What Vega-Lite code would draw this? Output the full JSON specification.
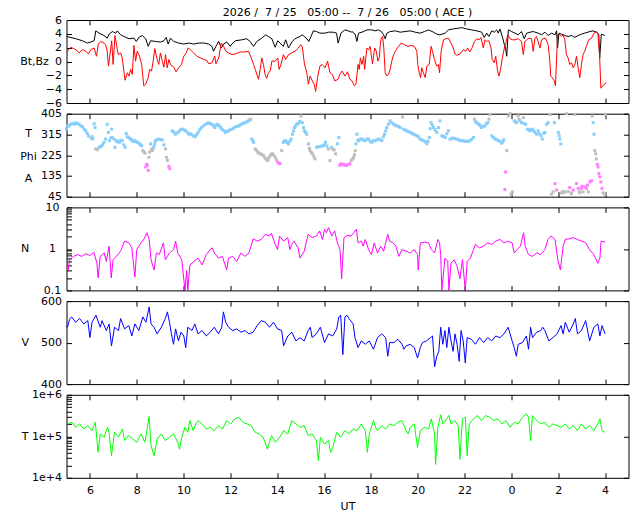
{
"$schema":"https://vega.github.io/schema/vega-lite/v6.json",
"padding":{"left":18.5,"top":6,"right":0,"bottom":0},
"spacing":10.7,
"bounds":"flush",
"config":{"font":"DejaVu Sans","view":{"stroke":"black","strokeWidth":1},
"axis":{"domain":false,"grid":false,"tickColor":"black","tickSize":-5,"tickWidth":1,"labelFontSize":11,"labelColor":"black","labelFont":"DejaVu Sans","titleFont":"DejaVu Sans","titleFontSize":11,"titleFontWeight":"normal","titleColor":"black","labelFlush":false,"labelOverlap":false,"labelBound":false},
"axisX":{"labelPadding":11.5},
"axisY":{"labelPadding":10}},
"datasets":{
"bt":[{"t":5.01,"v":3.62},{"t":5.4,"v":3.29},{"t":5.68,"v":3.0},{"t":5.89,"v":2.67},{"t":6.04,"v":2.81},{"t":6.18,"v":3.0},{"t":6.25,"v":4.43},{"t":6.39,"v":4.1},{"t":6.6,"v":3.76},{"t":6.74,"v":3.38},{"t":6.82,"v":3.95},{"t":6.96,"v":4.33},{"t":7.1,"v":4.1},{"t":7.17,"v":4.43},{"t":7.31,"v":3.86},{"t":7.45,"v":3.62},{"t":7.67,"v":3.29},{"t":7.88,"v":3.38},{"t":7.98,"v":2.9},{"t":8.09,"v":3.48},{"t":8.23,"v":3.76},{"t":8.38,"v":3.29},{"t":8.49,"v":2.19},{"t":8.59,"v":3.0},{"t":8.8,"v":2.9},{"t":9.01,"v":2.81},{"t":9.16,"v":3.0},{"t":9.26,"v":3.48},{"t":9.34,"v":2.52},{"t":9.44,"v":3.38},{"t":9.58,"v":2.9},{"t":9.79,"v":2.67},{"t":10.01,"v":2.52},{"t":10.22,"v":2.67},{"t":10.43,"v":2.52},{"t":10.65,"v":2.67},{"t":10.86,"v":2.67},{"t":11.07,"v":2.52},{"t":11.21,"v":2.19},{"t":11.28,"v":1.48},{"t":11.38,"v":2.19},{"t":11.5,"v":2.9},{"t":11.61,"v":1.95},{"t":11.71,"v":2.52},{"t":11.85,"v":2.81},{"t":11.99,"v":2.19},{"t":12.06,"v":2.52},{"t":12.21,"v":3.0},{"t":12.49,"v":3.14},{"t":12.7,"v":3.29},{"t":12.84,"v":2.9},{"t":12.99,"v":2.19},{"t":13.13,"v":2.9},{"t":13.34,"v":3.38},{"t":13.51,"v":3.86},{"t":13.62,"v":3.62},{"t":13.77,"v":3.29},{"t":13.91,"v":2.05},{"t":14.02,"v":3.0},{"t":14.12,"v":2.67},{"t":14.26,"v":2.19},{"t":14.36,"v":3.14},{"t":14.48,"v":1.95},{"t":14.62,"v":2.81},{"t":14.76,"v":3.29},{"t":14.97,"v":3.62},{"t":15.07,"v":3.86},{"t":15.26,"v":3.29},{"t":15.35,"v":2.9},{"t":15.47,"v":3.86},{"t":15.54,"v":4.43},{"t":15.68,"v":4.33},{"t":15.82,"v":4.1},{"t":16.04,"v":4.1},{"t":16.18,"v":4.24},{"t":16.39,"v":4.24},{"t":16.53,"v":4.1},{"t":16.6,"v":2.67},{"t":16.72,"v":4.1},{"t":16.89,"v":4.57},{"t":17.03,"v":4.43},{"t":17.17,"v":4.24},{"t":17.19,"v":4.33},{"t":17.33,"v":3.95},{"t":17.4,"v":2.9},{"t":17.47,"v":4.1},{"t":17.62,"v":4.24},{"t":17.83,"v":4.57},{"t":18.04,"v":4.57},{"t":18.18,"v":4.43},{"t":18.33,"v":4.57},{"t":18.47,"v":4.24},{"t":18.54,"v":3.86},{"t":18.61,"v":3.29},{"t":18.68,"v":4.1},{"t":18.82,"v":4.33},{"t":19.04,"v":4.43},{"t":19.25,"v":4.24},{"t":19.46,"v":4.33},{"t":19.68,"v":4.43},{"t":19.89,"v":4.24},{"t":20.1,"v":4.1},{"t":20.29,"v":4.33},{"t":20.46,"v":4.57},{"t":20.67,"v":4.24},{"t":20.81,"v":3.95},{"t":20.95,"v":3.86},{"t":21.17,"v":4.1},{"t":21.31,"v":4.57},{"t":21.52,"v":4.71},{"t":21.74,"v":4.81},{"t":21.88,"v":4.9},{"t":22.09,"v":4.71},{"t":22.3,"v":4.57},{"t":22.52,"v":4.43},{"t":22.73,"v":4.24},{"t":22.84,"v":3.48},{"t":22.94,"v":4.1},{"t":23.04,"v":3.62},{"t":23.16,"v":4.43},{"t":23.27,"v":4.24},{"t":23.37,"v":4.57},{"t":23.44,"v":4.1},{"t":23.51,"v":4.71},{"t":23.61,"v":3.62},{"t":23.7,"v":2.43},{"t":23.75,"v":1.95},{"t":23.8,"v":0.76},{"t":23.87,"v":4.57},{"t":24.01,"v":4.33},{"t":24.15,"v":4.1},{"t":24.29,"v":3.86},{"t":24.43,"v":4.33},{"t":24.55,"v":3.29},{"t":24.65,"v":4.1},{"t":24.79,"v":4.24},{"t":24.93,"v":4.33},{"t":25.14,"v":4.1},{"t":25.29,"v":3.86},{"t":25.43,"v":4.24},{"t":25.57,"v":3.76},{"t":25.71,"v":4.1},{"t":25.86,"v":3.86},{"t":25.93,"v":4.43},{"t":25.97,"v":1.95},{"t":26.03,"v":4.1},{"t":26.14,"v":3.95},{"t":26.28,"v":3.76},{"t":26.42,"v":3.62},{"t":26.57,"v":3.76},{"t":26.71,"v":3.48},{"t":26.85,"v":3.76},{"t":26.99,"v":3.95},{"t":27.13,"v":4.1},{"t":27.35,"v":4.33},{"t":27.49,"v":4.43},{"t":27.63,"v":4.24},{"t":27.73,"v":3.95},{"t":27.77,"v":0.52},{"t":27.84,"v":3.95},{"t":27.99,"v":3.76}],
"bz":[{"t":5.01,"v":1.38},{"t":5.18,"v":2.05},{"t":5.4,"v":1.71},{"t":5.54,"v":1.24},{"t":5.68,"v":1.71},{"t":5.82,"v":1.48},{"t":5.94,"v":1.1},{"t":6.04,"v":1.71},{"t":6.18,"v":1.95},{"t":6.28,"v":0.76},{"t":6.36,"v":2.52},{"t":6.46,"v":2.9},{"t":6.6,"v":2.67},{"t":6.67,"v":2.43},{"t":6.74,"v":1.48},{"t":6.79,"v":-0.67},{"t":6.84,"v":0.52},{"t":6.93,"v":3.0},{"t":6.99,"v":-0.43},{"t":7.07,"v":3.76},{"t":7.13,"v":2.52},{"t":7.21,"v":1.0},{"t":7.31,"v":1.24},{"t":7.38,"v":0.52},{"t":7.45,"v":-1.38},{"t":7.5,"v":-2.71},{"t":7.6,"v":-1.62},{"t":7.67,"v":-2.1},{"t":7.74,"v":-1.14},{"t":7.81,"v":-1.86},{"t":7.88,"v":2.33},{"t":7.95,"v":0.05},{"t":8.02,"v":1.48},{"t":8.12,"v":0.76},{"t":8.21,"v":-0.43},{"t":8.3,"v":-3.52},{"t":8.38,"v":-3.29},{"t":8.49,"v":-2.33},{"t":8.55,"v":-1.14},{"t":8.63,"v":-1.38},{"t":8.69,"v":-0.19},{"t":8.77,"v":1.86},{"t":8.87,"v":0.29},{"t":8.94,"v":-0.43},{"t":9.01,"v":1.24},{"t":9.09,"v":0.05},{"t":9.16,"v":-0.81},{"t":9.23,"v":1.0},{"t":9.3,"v":-0.9},{"t":9.37,"v":0.29},{"t":9.44,"v":-0.43},{"t":9.58,"v":-0.81},{"t":9.68,"v":-1.48},{"t":9.79,"v":-0.9},{"t":9.91,"v":-0.43},{"t":10.01,"v":0.76},{"t":10.11,"v":1.24},{"t":10.19,"v":1.95},{"t":10.29,"v":1.71},{"t":10.43,"v":1.24},{"t":10.57,"v":0.76},{"t":10.72,"v":0.52},{"t":10.86,"v":0.29},{"t":11.0,"v":0.14},{"t":11.07,"v":-0.33},{"t":11.21,"v":-0.19},{"t":11.33,"v":0.76},{"t":11.38,"v":-0.33},{"t":11.5,"v":0.52},{"t":11.61,"v":2.67},{"t":11.71,"v":2.19},{"t":11.81,"v":1.48},{"t":11.92,"v":1.24},{"t":12.06,"v":1.0},{"t":12.21,"v":1.1},{"t":12.42,"v":1.38},{"t":12.63,"v":1.38},{"t":12.77,"v":1.48},{"t":12.89,"v":0.52},{"t":12.99,"v":-0.43},{"t":13.06,"v":-1.14},{"t":13.13,"v":-1.86},{"t":13.2,"v":-2.57},{"t":13.27,"v":-1.14},{"t":13.34,"v":0.52},{"t":13.41,"v":-0.43},{"t":13.48,"v":-1.86},{"t":13.55,"v":-2.43},{"t":13.62,"v":-1.62},{"t":13.7,"v":-1.38},{"t":13.77,"v":0.05},{"t":13.91,"v":0.05},{"t":14.02,"v":0.52},{"t":14.08,"v":-1.14},{"t":14.16,"v":-0.43},{"t":14.26,"v":1.0},{"t":14.36,"v":0.29},{"t":14.48,"v":1.0},{"t":14.62,"v":1.24},{"t":14.76,"v":1.48},{"t":14.9,"v":1.95},{"t":15.01,"v":2.43},{"t":15.07,"v":2.19},{"t":15.16,"v":-0.33},{"t":15.26,"v":-1.62},{"t":15.33,"v":-3.29},{"t":15.4,"v":-2.1},{"t":15.5,"v":-2.81},{"t":15.58,"v":-3.29},{"t":15.64,"v":-4.33},{"t":15.72,"v":-2.33},{"t":15.82,"v":-0.67},{"t":15.92,"v":-0.43},{"t":16.04,"v":-0.9},{"t":16.15,"v":0.05},{"t":16.25,"v":-1.62},{"t":16.35,"v":-1.86},{"t":16.46,"v":-2.81},{"t":16.6,"v":-2.57},{"t":16.67,"v":-1.86},{"t":16.77,"v":-1.38},{"t":16.89,"v":-2.1},{"t":17.0,"v":-1.48},{"t":17.1,"v":-2.57},{"t":17.17,"v":-2.71},{"t":17.19,"v":-2.81},{"t":17.3,"v":-3.52},{"t":17.36,"v":-3.29},{"t":17.45,"v":-0.43},{"t":17.5,"v":-1.14},{"t":17.55,"v":0.52},{"t":17.62,"v":-0.43},{"t":17.69,"v":0.76},{"t":17.73,"v":-1.14},{"t":17.83,"v":1.95},{"t":17.9,"v":1.71},{"t":17.97,"v":2.19},{"t":18.01,"v":1.0},{"t":18.07,"v":-0.33},{"t":18.16,"v":1.95},{"t":18.23,"v":1.48},{"t":18.3,"v":0.05},{"t":18.36,"v":0.62},{"t":18.4,"v":2.43},{"t":18.44,"v":3.38},{"t":18.5,"v":3.62},{"t":18.55,"v":1.95},{"t":18.61,"v":-1.62},{"t":18.68,"v":-2.1},{"t":18.75,"v":-1.86},{"t":18.82,"v":-1.14},{"t":18.89,"v":0.05},{"t":18.97,"v":1.0},{"t":19.04,"v":1.48},{"t":19.18,"v":2.19},{"t":19.29,"v":2.67},{"t":19.43,"v":2.43},{"t":19.58,"v":2.19},{"t":19.72,"v":2.33},{"t":19.86,"v":2.19},{"t":19.96,"v":1.48},{"t":20.0,"v":-0.43},{"t":20.06,"v":-1.62},{"t":20.12,"v":-2.33},{"t":20.17,"v":-0.9},{"t":20.24,"v":-1.62},{"t":20.32,"v":-2.33},{"t":20.39,"v":-0.67},{"t":20.49,"v":-0.43},{"t":20.57,"v":2.19},{"t":20.63,"v":1.48},{"t":20.71,"v":0.29},{"t":20.81,"v":-0.67},{"t":20.88,"v":-0.43},{"t":20.93,"v":-1.62},{"t":21.0,"v":1.48},{"t":21.1,"v":3.14},{"t":21.2,"v":3.29},{"t":21.31,"v":3.38},{"t":21.42,"v":2.67},{"t":21.52,"v":1.95},{"t":21.59,"v":1.1},{"t":21.66,"v":0.9},{"t":21.81,"v":1.1},{"t":21.95,"v":1.71},{"t":22.05,"v":1.48},{"t":22.13,"v":1.95},{"t":22.23,"v":1.38},{"t":22.33,"v":2.05},{"t":22.42,"v":2.9},{"t":22.52,"v":3.29},{"t":22.62,"v":3.14},{"t":22.7,"v":3.48},{"t":22.8,"v":1.95},{"t":22.87,"v":3.14},{"t":22.94,"v":2.9},{"t":23.04,"v":3.0},{"t":23.13,"v":1.95},{"t":23.18,"v":0.29},{"t":23.27,"v":-0.19},{"t":23.33,"v":0.76},{"t":23.41,"v":-1.38},{"t":23.47,"v":-2.1},{"t":23.55,"v":-0.9},{"t":23.61,"v":0.52},{"t":23.7,"v":1.95},{"t":23.75,"v":2.43},{"t":23.84,"v":3.86},{"t":23.94,"v":3.29},{"t":24.04,"v":3.14},{"t":24.15,"v":3.14},{"t":24.29,"v":3.29},{"t":24.43,"v":2.9},{"t":24.51,"v":1.0},{"t":24.58,"v":2.9},{"t":24.65,"v":3.14},{"t":24.75,"v":3.38},{"t":24.86,"v":3.29},{"t":24.93,"v":1.48},{"t":25.0,"v":3.29},{"t":25.07,"v":3.62},{"t":25.14,"v":2.9},{"t":25.22,"v":1.95},{"t":25.29,"v":3.14},{"t":25.36,"v":3.29},{"t":25.46,"v":3.38},{"t":25.57,"v":2.43},{"t":25.64,"v":0.05},{"t":25.68,"v":-2.1},{"t":25.74,"v":-2.33},{"t":25.83,"v":-2.81},{"t":25.88,"v":-3.52},{"t":25.93,"v":0.5},{"t":25.97,"v":3.86},{"t":26.07,"v":3.86},{"t":26.14,"v":3.62},{"t":26.21,"v":3.86},{"t":26.28,"v":3.14},{"t":26.35,"v":1.0},{"t":26.42,"v":0.52},{"t":26.49,"v":-0.43},{"t":26.57,"v":-0.19},{"t":26.64,"v":-0.9},{"t":26.71,"v":-0.43},{"t":26.78,"v":0.76},{"t":26.85,"v":-0.9},{"t":26.92,"v":-2.33},{"t":26.99,"v":-0.43},{"t":27.06,"v":1.0},{"t":27.13,"v":1.48},{"t":27.2,"v":2.19},{"t":27.3,"v":3.14},{"t":27.42,"v":3.38},{"t":27.53,"v":4.1},{"t":27.63,"v":4.33},{"t":27.7,"v":3.86},{"t":27.77,"v":0.52},{"t":27.82,"v":-3.86},{"t":27.87,"v":-3.67},{"t":27.96,"v":-3.29},{"t":28.06,"v":-3.05}],
"phi":[{"t":5.0,"p":338},{"t":5.05,"p":352},{"t":5.11,"p":352},{"t":5.18,"p":359},{"t":5.26,"p":362},{"t":5.33,"p":359},{"t":5.4,"p":366},{"t":5.47,"p":362},{"t":5.54,"p":359},{"t":5.61,"p":352},{"t":5.68,"p":348},{"t":5.75,"p":338},{"t":5.82,"p":331},{"t":5.88,"p":320},{"t":5.94,"p":309},{"t":6.04,"p":299},{"t":6.1,"p":305},{"t":6.13,"p":295},{"t":6.18,"p":361},{"t":6.22,"p":345},{"t":6.25,"p":252},{"t":6.32,"p":249},{"t":6.39,"p":259},{"t":6.45,"p":262},{"t":6.5,"p":266},{"t":6.55,"p":272},{"t":6.6,"p":281},{"t":6.67,"p":295},{"t":6.74,"p":359},{"t":6.79,"p":324},{"t":6.84,"p":288},{"t":6.9,"p":300},{"t":6.93,"p":338},{"t":6.96,"p":302},{"t":7.03,"p":295},{"t":7.07,"p":259},{"t":7.12,"p":285},{"t":7.17,"p":288},{"t":7.22,"p":282},{"t":7.27,"p":281},{"t":7.33,"p":290},{"t":7.38,"p":288},{"t":7.45,"p":270},{"t":7.5,"p":259},{"t":7.55,"p":319},{"t":7.6,"p":305},{"t":7.64,"p":302},{"t":7.7,"p":298},{"t":7.74,"p":295},{"t":7.78,"p":292},{"t":7.81,"p":288},{"t":7.86,"p":285},{"t":7.92,"p":288},{"t":7.97,"p":284},{"t":8.02,"p":281},{"t":8.07,"p":278},{"t":8.12,"p":274},{"t":8.16,"p":270},{"t":8.21,"p":266},{"t":8.26,"p":245},{"t":8.3,"p":240},{"t":8.35,"p":234},{"t":8.38,"p":174},{"t":8.42,"p":185},{"t":8.45,"p":181},{"t":8.49,"p":159},{"t":8.52,"p":216},{"t":8.55,"p":238},{"t":8.59,"p":274},{"t":8.63,"p":250},{"t":8.66,"p":245},{"t":8.7,"p":255},{"t":8.73,"p":262},{"t":8.77,"p":275},{"t":8.8,"p":288},{"t":8.87,"p":292},{"t":8.94,"p":295},{"t":9.01,"p":293},{"t":9.09,"p":291},{"t":9.16,"p":270},{"t":9.23,"p":252},{"t":9.27,"p":216},{"t":9.31,"p":202},{"t":9.37,"p":177},{"t":9.41,"p":166},{"t":9.51,"p":331},{"t":9.58,"p":325},{"t":9.65,"p":316},{"t":9.72,"p":322},{"t":9.79,"p":326},{"t":9.86,"p":335},{"t":9.94,"p":338},{"t":10.01,"p":335},{"t":10.08,"p":331},{"t":10.15,"p":325},{"t":10.22,"p":316},{"t":10.29,"p":318},{"t":10.36,"p":313},{"t":10.43,"p":308},{"t":10.5,"p":305},{"t":10.56,"p":315},{"t":10.62,"p":324},{"t":10.69,"p":335},{"t":10.76,"p":345},{"t":10.84,"p":352},{"t":10.93,"p":359},{"t":11.0,"p":362},{"t":11.07,"p":366},{"t":11.14,"p":362},{"t":11.21,"p":359},{"t":11.27,"p":352},{"t":11.33,"p":345},{"t":11.38,"p":355},{"t":11.43,"p":359},{"t":11.48,"p":355},{"t":11.52,"p":352},{"t":11.58,"p":345},{"t":11.64,"p":338},{"t":11.71,"p":332},{"t":11.78,"p":324},{"t":11.85,"p":328},{"t":11.92,"p":331},{"t":11.99,"p":335},{"t":12.06,"p":338},{"t":12.13,"p":342},{"t":12.21,"p":348},{"t":12.28,"p":350},{"t":12.35,"p":352},{"t":12.42,"p":356},{"t":12.49,"p":361},{"t":12.56,"p":364},{"t":12.63,"p":366},{"t":12.7,"p":370},{"t":12.77,"p":374},{"t":12.82,"p":378},{"t":12.87,"p":381},{"t":12.91,"p":295},{"t":12.95,"p":288},{"t":12.99,"p":281},{"t":13.06,"p":252},{"t":13.12,"p":245},{"t":13.17,"p":238},{"t":13.22,"p":234},{"t":13.27,"p":231},{"t":13.34,"p":228},{"t":13.41,"p":224},{"t":13.46,"p":216},{"t":13.51,"p":209},{"t":13.56,"p":205},{"t":13.6,"p":202},{"t":13.65,"p":215},{"t":13.7,"p":224},{"t":13.75,"p":229},{"t":13.79,"p":231},{"t":13.85,"p":225},{"t":13.91,"p":216},{"t":13.96,"p":205},{"t":14.02,"p":195},{"t":14.08,"p":190},{"t":14.12,"p":188},{"t":14.19,"p":245},{"t":14.26,"p":281},{"t":14.31,"p":288},{"t":14.36,"p":288},{"t":14.42,"p":280},{"t":14.48,"p":274},{"t":14.54,"p":285},{"t":14.59,"p":295},{"t":14.65,"p":316},{"t":14.7,"p":330},{"t":14.73,"p":345},{"t":14.78,"p":352},{"t":14.83,"p":359},{"t":14.88,"p":362},{"t":14.93,"p":366},{"t":14.97,"p":372},{"t":15.01,"p":395},{"t":15.07,"p":366},{"t":15.12,"p":345},{"t":15.16,"p":331},{"t":15.21,"p":324},{"t":15.26,"p":316},{"t":15.33,"p":274},{"t":15.37,"p":255},{"t":15.4,"p":245},{"t":15.45,"p":238},{"t":15.5,"p":231},{"t":15.56,"p":220},{"t":15.61,"p":209},{"t":15.68,"p":259},{"t":15.75,"p":262},{"t":15.82,"p":262},{"t":15.89,"p":264},{"t":15.96,"p":266},{"t":16.01,"p":270},{"t":16.06,"p":281},{"t":16.12,"p":265},{"t":16.18,"p":252},{"t":16.25,"p":202},{"t":16.32,"p":259},{"t":16.38,"p":250},{"t":16.43,"p":248},{"t":16.49,"p":231},{"t":16.57,"p":274},{"t":16.63,"p":302},{"t":16.67,"p":181},{"t":16.7,"p":185},{"t":16.74,"p":188},{"t":16.8,"p":184},{"t":16.86,"p":185},{"t":16.91,"p":181},{"t":16.96,"p":181},{"t":17.03,"p":185},{"t":17.1,"p":188},{"t":17.16,"p":202},{"t":17.22,"p":209},{"t":17.26,"p":216},{"t":17.3,"p":228},{"t":17.33,"p":245},{"t":17.36,"p":274},{"t":17.4,"p":316},{"t":17.44,"p":290},{"t":17.47,"p":288},{"t":17.52,"p":292},{"t":17.57,"p":295},{"t":17.62,"p":295},{"t":17.68,"p":290},{"t":17.76,"p":288},{"t":17.83,"p":295},{"t":17.9,"p":295},{"t":17.97,"p":285},{"t":18.04,"p":281},{"t":18.11,"p":288},{"t":18.18,"p":288},{"t":18.25,"p":292},{"t":18.33,"p":295},{"t":18.4,"p":292},{"t":18.47,"p":288},{"t":18.53,"p":305},{"t":18.58,"p":316},{"t":18.63,"p":330},{"t":18.68,"p":345},{"t":18.75,"p":360},{"t":18.82,"p":374},{"t":18.9,"p":366},{"t":18.97,"p":359},{"t":19.04,"p":355},{"t":19.11,"p":352},{"t":19.18,"p":349},{"t":19.25,"p":345},{"t":19.35,"p":391},{"t":19.39,"p":338},{"t":19.46,"p":334},{"t":19.53,"p":331},{"t":19.6,"p":327},{"t":19.68,"p":324},{"t":19.75,"p":320},{"t":19.82,"p":316},{"t":19.89,"p":313},{"t":19.96,"p":309},{"t":20.03,"p":305},{"t":20.1,"p":295},{"t":20.17,"p":292},{"t":20.24,"p":288},{"t":20.32,"p":283},{"t":20.39,"p":274},{"t":20.44,"p":285},{"t":20.49,"p":302},{"t":20.53,"p":340},{"t":20.57,"p":366},{"t":20.62,"p":356},{"t":20.67,"p":345},{"t":20.74,"p":335},{"t":20.81,"p":324},{"t":20.88,"p":345},{"t":20.95,"p":374},{"t":21.03,"p":309},{"t":21.1,"p":306},{"t":21.17,"p":302},{"t":21.24,"p":318},{"t":21.31,"p":331},{"t":21.38,"p":295},{"t":21.45,"p":298},{"t":21.52,"p":299},{"t":21.59,"p":297},{"t":21.66,"p":295},{"t":21.74,"p":292},{"t":21.81,"p":288},{"t":21.88,"p":288},{"t":21.95,"p":288},{"t":22.02,"p":285},{"t":22.09,"p":285},{"t":22.16,"p":286},{"t":22.23,"p":288},{"t":22.3,"p":294},{"t":22.38,"p":302},{"t":22.42,"p":381},{"t":22.47,"p":370},{"t":22.52,"p":366},{"t":22.57,"p":362},{"t":22.62,"p":359},{"t":22.67,"p":352},{"t":22.73,"p":345},{"t":22.8,"p":350},{"t":22.87,"p":352},{"t":22.94,"p":362},{"t":22.99,"p":366},{"t":23.04,"p":381},{"t":23.09,"p":402},{"t":23.16,"p":309},{"t":23.23,"p":302},{"t":23.3,"p":295},{"t":23.37,"p":292},{"t":23.44,"p":288},{"t":23.51,"p":285},{"t":23.58,"p":277},{"t":23.63,"p":282},{"t":23.67,"p":292},{"t":23.72,"p":76},{"t":23.75,"p":152},{"t":23.8,"p":245},{"t":23.87,"p":395},{"t":23.94,"p":405},{"t":23.98,"p":56},{"t":24.04,"p":66},{"t":24.12,"p":374},{"t":24.18,"p":370},{"t":24.22,"p":366},{"t":24.29,"p":395},{"t":24.33,"p":380},{"t":24.36,"p":374},{"t":24.43,"p":366},{"t":24.51,"p":388},{"t":24.56,"p":362},{"t":24.61,"p":359},{"t":24.69,"p":338},{"t":24.74,"p":335},{"t":24.79,"p":331},{"t":24.84,"p":335},{"t":24.89,"p":338},{"t":24.95,"p":332},{"t":25.0,"p":324},{"t":25.07,"p":316},{"t":25.14,"p":331},{"t":25.2,"p":318},{"t":25.26,"p":309},{"t":25.32,"p":295},{"t":25.38,"p":320},{"t":25.43,"p":324},{"t":25.5,"p":359},{"t":25.57,"p":366},{"t":25.64,"p":402},{"t":25.71,"p":56},{"t":25.78,"p":66},{"t":25.83,"p":366},{"t":25.86,"p":102},{"t":25.93,"p":74},{"t":26.0,"p":324},{"t":26.04,"p":310},{"t":26.07,"p":295},{"t":26.11,"p":274},{"t":26.14,"p":62},{"t":26.2,"p":68},{"t":26.21,"p":62},{"t":26.28,"p":66},{"t":26.35,"p":405},{"t":26.42,"p":68},{"t":26.49,"p":85},{"t":26.55,"p":58},{"t":26.57,"p":62},{"t":26.64,"p":74},{"t":26.71,"p":402},{"t":26.78,"p":102},{"t":26.85,"p":81},{"t":26.9,"p":66},{"t":26.92,"p":62},{"t":26.99,"p":81},{"t":27.0,"p":90},{"t":27.06,"p":66},{"t":27.13,"p":88},{"t":27.2,"p":81},{"t":27.25,"p":95},{"t":27.28,"p":66},{"t":27.35,"p":109},{"t":27.42,"p":114},{"t":27.45,"p":395},{"t":27.49,"p":366},{"t":27.53,"p":316},{"t":27.56,"p":245},{"t":27.6,"p":231},{"t":27.63,"p":209},{"t":27.67,"p":185},{"t":27.7,"p":174},{"t":27.73,"p":145},{"t":27.77,"p":131},{"t":27.82,"p":109},{"t":27.87,"p":81},{"t":27.91,"p":62},{"t":27.99,"p":56},{"t":28.01,"p":402}],
"n":[{"t":5.04,"v":0.5},{"t":5.08,"v":0.31},{"t":5.13,"v":0.55},{"t":5.3,"v":0.66},{"t":5.48,"v":0.73},{"t":5.65,"v":0.66},{"t":5.83,"v":0.77},{"t":6.0,"v":0.69},{"t":6.17,"v":0.83},{"t":6.3,"v":0.45},{"t":6.35,"v":0.2},{"t":6.44,"v":0.66},{"t":6.61,"v":0.8},{"t":6.7,"v":0.5},{"t":6.82,"v":1.16},{"t":6.91,"v":0.2},{"t":6.99,"v":0.55},{"t":7.13,"v":0.66},{"t":7.31,"v":0.88},{"t":7.48,"v":1.54},{"t":7.66,"v":1.4},{"t":7.79,"v":1.06},{"t":7.92,"v":0.21},{"t":8.0,"v":0.96},{"t":8.18,"v":1.4},{"t":8.32,"v":1.76},{"t":8.44,"v":2.46},{"t":8.53,"v":1.69},{"t":8.61,"v":0.55},{"t":8.74,"v":0.31},{"t":8.84,"v":0.8},{"t":8.96,"v":0.73},{"t":9.14,"v":1.4},{"t":9.22,"v":0.55},{"t":9.4,"v":0.8},{"t":9.57,"v":0.96},{"t":9.66,"v":1.54},{"t":9.75,"v":0.8},{"t":9.92,"v":0.55},{"t":10.06,"v":0.1},{"t":10.13,"v":0.3},{"t":10.18,"v":0.1},{"t":10.27,"v":0.41},{"t":10.44,"v":0.5},{"t":10.62,"v":0.6},{"t":10.79,"v":0.41},{"t":10.97,"v":0.73},{"t":11.14,"v":0.96},{"t":11.23,"v":1.06},{"t":11.31,"v":0.8},{"t":11.49,"v":0.6},{"t":11.66,"v":0.66},{"t":11.84,"v":0.31},{"t":11.92,"v":0.6},{"t":12.1,"v":0.66},{"t":12.27,"v":0.5},{"t":12.45,"v":0.8},{"t":12.62,"v":0.66},{"t":12.79,"v":0.8},{"t":12.88,"v":1.16},{"t":12.97,"v":1.76},{"t":13.14,"v":1.54},{"t":13.32,"v":1.69},{"t":13.49,"v":2.24},{"t":13.67,"v":2.04},{"t":13.75,"v":2.37},{"t":13.89,"v":1.4},{"t":14.01,"v":0.96},{"t":14.1,"v":2.04},{"t":14.27,"v":1.54},{"t":14.45,"v":1.86},{"t":14.54,"v":0.96},{"t":14.62,"v":1.28},{"t":14.71,"v":1.54},{"t":14.89,"v":1.06},{"t":14.97,"v":0.6},{"t":15.15,"v":0.88},{"t":15.32,"v":2.24},{"t":15.49,"v":1.86},{"t":15.67,"v":2.04},{"t":15.81,"v":2.71},{"t":15.93,"v":1.69},{"t":16.02,"v":2.97},{"t":16.1,"v":2.46},{"t":16.19,"v":3.27},{"t":16.33,"v":2.04},{"t":16.45,"v":2.71},{"t":16.57,"v":1.4},{"t":16.68,"v":0.96},{"t":16.75,"v":0.19},{"t":16.85,"v":1.86},{"t":16.98,"v":2.12},{"t":17.15,"v":2.04},{"t":17.27,"v":2.46},{"t":17.38,"v":2.97},{"t":17.45,"v":1.4},{"t":17.59,"v":1.54},{"t":17.67,"v":1.16},{"t":17.76,"v":1.69},{"t":17.9,"v":0.96},{"t":18.02,"v":0.73},{"t":18.14,"v":1.4},{"t":18.28,"v":0.8},{"t":18.42,"v":1.16},{"t":18.54,"v":0.88},{"t":18.72,"v":2.24},{"t":18.8,"v":1.54},{"t":18.94,"v":1.4},{"t":19.07,"v":1.16},{"t":19.19,"v":0.66},{"t":19.33,"v":0.96},{"t":19.5,"v":0.88},{"t":19.68,"v":0.8},{"t":19.85,"v":0.96},{"t":19.99,"v":0.73},{"t":20.02,"v":0.31},{"t":20.11,"v":1.4},{"t":20.29,"v":1.46},{"t":20.46,"v":1.4},{"t":20.58,"v":0.96},{"t":20.72,"v":0.8},{"t":20.86,"v":1.69},{"t":20.93,"v":1.4},{"t":20.98,"v":0.73},{"t":21.03,"v":0.1},{"t":21.16,"v":0.6},{"t":21.28,"v":0.5},{"t":21.33,"v":0.1},{"t":21.42,"v":0.45},{"t":21.56,"v":0.55},{"t":21.68,"v":0.38},{"t":21.8,"v":0.19},{"t":21.91,"v":0.55},{"t":22.03,"v":0.1},{"t":22.11,"v":0.5},{"t":22.25,"v":0.6},{"t":22.38,"v":0.96},{"t":22.46,"v":1.28},{"t":22.64,"v":1.06},{"t":22.81,"v":1.16},{"t":22.99,"v":1.4},{"t":23.16,"v":1.28},{"t":23.33,"v":1.54},{"t":23.51,"v":1.69},{"t":23.68,"v":1.4},{"t":23.86,"v":1.54},{"t":24.03,"v":1.4},{"t":24.12,"v":0.8},{"t":24.24,"v":0.96},{"t":24.38,"v":1.16},{"t":24.52,"v":2.46},{"t":24.59,"v":1.16},{"t":24.73,"v":0.73},{"t":24.9,"v":0.66},{"t":25.08,"v":0.8},{"t":25.25,"v":0.73},{"t":25.43,"v":0.96},{"t":25.56,"v":1.69},{"t":25.69,"v":2.04},{"t":25.86,"v":1.69},{"t":25.98,"v":0.55},{"t":26.09,"v":0.31},{"t":26.21,"v":1.16},{"t":26.3,"v":1.69},{"t":26.47,"v":1.76},{"t":26.64,"v":1.86},{"t":26.82,"v":1.69},{"t":26.99,"v":1.54},{"t":27.17,"v":1.4},{"t":27.34,"v":0.96},{"t":27.52,"v":0.73},{"t":27.69,"v":0.45},{"t":27.78,"v":0.6},{"t":27.83,"v":1.54},{"t":28.0,"v":1.46}],
"v":[{"t":5.0,"v":541},{"t":5.04,"v":537},{"t":5.13,"v":556},{"t":5.22,"v":562},{"t":5.39,"v":549},{"t":5.56,"v":558},{"t":5.74,"v":545},{"t":5.91,"v":553},{"t":6.0,"v":512},{"t":6.09,"v":549},{"t":6.26,"v":566},{"t":6.44,"v":537},{"t":6.52,"v":553},{"t":6.7,"v":529},{"t":6.82,"v":545},{"t":6.92,"v":492},{"t":7.05,"v":537},{"t":7.22,"v":529},{"t":7.31,"v":558},{"t":7.48,"v":533},{"t":7.66,"v":541},{"t":7.79,"v":516},{"t":7.92,"v":545},{"t":8.09,"v":529},{"t":8.26,"v":562},{"t":8.39,"v":549},{"t":8.53,"v":586},{"t":8.61,"v":545},{"t":8.74,"v":537},{"t":8.87,"v":521},{"t":9.05,"v":537},{"t":9.22,"v":558},{"t":9.31,"v":574},{"t":9.4,"v":549},{"t":9.48,"v":521},{"t":9.57,"v":496},{"t":9.66,"v":533},{"t":9.78,"v":504},{"t":9.89,"v":525},{"t":10.01,"v":516},{"t":10.09,"v":488},{"t":10.18,"v":537},{"t":10.36,"v":529},{"t":10.48,"v":545},{"t":10.62,"v":521},{"t":10.79,"v":529},{"t":10.97,"v":516},{"t":11.14,"v":525},{"t":11.31,"v":537},{"t":11.49,"v":521},{"t":11.63,"v":537},{"t":11.7,"v":574},{"t":11.8,"v":549},{"t":11.92,"v":537},{"t":12.1,"v":529},{"t":12.27,"v":533},{"t":12.45,"v":525},{"t":12.62,"v":529},{"t":12.79,"v":521},{"t":12.97,"v":525},{"t":13.14,"v":541},{"t":13.32,"v":553},{"t":13.49,"v":549},{"t":13.67,"v":537},{"t":13.84,"v":549},{"t":14.01,"v":533},{"t":14.19,"v":529},{"t":14.27,"v":492},{"t":14.45,"v":516},{"t":14.62,"v":525},{"t":14.8,"v":504},{"t":14.97,"v":512},{"t":15.15,"v":504},{"t":15.32,"v":529},{"t":15.41,"v":537},{"t":15.49,"v":512},{"t":15.67,"v":521},{"t":15.84,"v":537},{"t":16.02,"v":500},{"t":16.19,"v":521},{"t":16.37,"v":516},{"t":16.54,"v":533},{"t":16.63,"v":562},{"t":16.71,"v":566},{"t":16.8,"v":471},{"t":16.89,"v":562},{"t":16.98,"v":566},{"t":17.06,"v":558},{"t":17.24,"v":545},{"t":17.32,"v":512},{"t":17.45,"v":488},{"t":17.59,"v":504},{"t":17.76,"v":496},{"t":17.93,"v":504},{"t":18.11,"v":484},{"t":18.28,"v":512},{"t":18.46,"v":521},{"t":18.63,"v":512},{"t":18.72,"v":467},{"t":18.8,"v":500},{"t":18.98,"v":500},{"t":19.15,"v":508},{"t":19.33,"v":496},{"t":19.41,"v":484},{"t":19.5,"v":492},{"t":19.68,"v":496},{"t":19.85,"v":488},{"t":19.99,"v":463},{"t":20.11,"v":488},{"t":20.2,"v":500},{"t":20.37,"v":504},{"t":20.55,"v":512},{"t":20.63,"v":516},{"t":20.72,"v":442},{"t":20.81,"v":467},{"t":20.9,"v":479},{"t":20.98,"v":537},{"t":21.07,"v":496},{"t":21.16,"v":529},{"t":21.24,"v":488},{"t":21.33,"v":537},{"t":21.42,"v":504},{"t":21.51,"v":479},{"t":21.59,"v":521},{"t":21.68,"v":496},{"t":21.77,"v":455},{"t":21.85,"v":529},{"t":21.94,"v":504},{"t":22.03,"v":451},{"t":22.11,"v":512},{"t":22.29,"v":508},{"t":22.46,"v":496},{"t":22.64,"v":512},{"t":22.81,"v":500},{"t":22.99,"v":512},{"t":23.16,"v":504},{"t":23.33,"v":516},{"t":23.51,"v":512},{"t":23.68,"v":521},{"t":23.86,"v":537},{"t":24.03,"v":504},{"t":24.12,"v":488},{"t":24.21,"v":467},{"t":24.29,"v":496},{"t":24.47,"v":500},{"t":24.64,"v":516},{"t":24.73,"v":484},{"t":24.82,"v":537},{"t":24.9,"v":512},{"t":25.08,"v":525},{"t":25.25,"v":529},{"t":25.34,"v":537},{"t":25.43,"v":529},{"t":25.6,"v":504},{"t":25.77,"v":512},{"t":25.95,"v":521},{"t":26.12,"v":541},{"t":26.21,"v":521},{"t":26.3,"v":549},{"t":26.47,"v":525},{"t":26.64,"v":545},{"t":26.73,"v":558},{"t":26.82,"v":521},{"t":26.99,"v":529},{"t":27.17,"v":553},{"t":27.34,"v":504},{"t":27.52,"v":537},{"t":27.69,"v":545},{"t":27.78,"v":516},{"t":27.87,"v":541},{"t":28.0,"v":521}],
"temp":[{"t":5.04,"v":199000},{"t":5.22,"v":218000},{"t":5.39,"v":165000},{"t":5.56,"v":199000},{"t":5.74,"v":150000},{"t":5.91,"v":181000},{"t":6.09,"v":137000},{"t":6.23,"v":218000},{"t":6.35,"v":41000},{"t":6.44,"v":114000},{"t":6.61,"v":95000},{"t":6.75,"v":165000},{"t":6.82,"v":125000},{"t":6.92,"v":34000},{"t":7.05,"v":125000},{"t":7.22,"v":95000},{"t":7.39,"v":150000},{"t":7.48,"v":79000},{"t":7.66,"v":104000},{"t":7.83,"v":86000},{"t":8.0,"v":72000},{"t":8.18,"v":114000},{"t":8.35,"v":72000},{"t":8.53,"v":299000},{"t":8.61,"v":59000},{"t":8.74,"v":34000},{"t":8.87,"v":86000},{"t":9.05,"v":114000},{"t":9.22,"v":79000},{"t":9.4,"v":95000},{"t":9.57,"v":114000},{"t":9.75,"v":72000},{"t":9.83,"v":49000},{"t":9.92,"v":95000},{"t":10.06,"v":165000},{"t":10.18,"v":125000},{"t":10.27,"v":239000},{"t":10.41,"v":137000},{"t":10.53,"v":199000},{"t":10.62,"v":239000},{"t":10.79,"v":199000},{"t":10.97,"v":150000},{"t":11.14,"v":165000},{"t":11.31,"v":137000},{"t":11.49,"v":181000},{"t":11.66,"v":150000},{"t":11.84,"v":239000},{"t":12.01,"v":199000},{"t":12.18,"v":263000},{"t":12.36,"v":288000},{"t":12.53,"v":218000},{"t":12.71,"v":199000},{"t":12.88,"v":181000},{"t":13.06,"v":125000},{"t":13.23,"v":114000},{"t":13.4,"v":95000},{"t":13.58,"v":49000},{"t":13.75,"v":104000},{"t":13.93,"v":72000},{"t":14.1,"v":95000},{"t":14.27,"v":137000},{"t":14.45,"v":114000},{"t":14.62,"v":239000},{"t":14.8,"v":199000},{"t":14.97,"v":165000},{"t":15.15,"v":181000},{"t":15.32,"v":104000},{"t":15.49,"v":114000},{"t":15.67,"v":79000},{"t":15.76,"v":26000},{"t":15.84,"v":95000},{"t":16.02,"v":65000},{"t":16.19,"v":79000},{"t":16.28,"v":41000},{"t":16.37,"v":54000},{"t":16.54,"v":125000},{"t":16.71,"v":95000},{"t":16.89,"v":137000},{"t":17.06,"v":114000},{"t":17.24,"v":150000},{"t":17.41,"v":137000},{"t":17.59,"v":199000},{"t":17.76,"v":137000},{"t":17.85,"v":41000},{"t":17.93,"v":114000},{"t":18.11,"v":239000},{"t":18.2,"v":165000},{"t":18.28,"v":137000},{"t":18.46,"v":181000},{"t":18.63,"v":150000},{"t":18.8,"v":199000},{"t":18.98,"v":181000},{"t":19.15,"v":218000},{"t":19.33,"v":239000},{"t":19.5,"v":137000},{"t":19.59,"v":114000},{"t":19.68,"v":165000},{"t":19.85,"v":199000},{"t":19.99,"v":54000},{"t":20.11,"v":137000},{"t":20.29,"v":165000},{"t":20.46,"v":150000},{"t":20.58,"v":263000},{"t":20.72,"v":114000},{"t":20.76,"v":21000},{"t":20.86,"v":165000},{"t":20.98,"v":330000},{"t":21.07,"v":199000},{"t":21.24,"v":263000},{"t":21.33,"v":320000},{"t":21.42,"v":199000},{"t":21.59,"v":239000},{"t":21.73,"v":181000},{"t":21.8,"v":28000},{"t":21.91,"v":263000},{"t":22.03,"v":288000},{"t":22.11,"v":34000},{"t":22.2,"v":199000},{"t":22.38,"v":263000},{"t":22.55,"v":316000},{"t":22.72,"v":239000},{"t":22.9,"v":316000},{"t":23.07,"v":288000},{"t":23.25,"v":239000},{"t":23.42,"v":263000},{"t":23.6,"v":199000},{"t":23.77,"v":239000},{"t":23.94,"v":165000},{"t":24.12,"v":218000},{"t":24.29,"v":199000},{"t":24.47,"v":288000},{"t":24.64,"v":347000},{"t":24.73,"v":288000},{"t":24.82,"v":79000},{"t":24.9,"v":316000},{"t":25.08,"v":239000},{"t":25.25,"v":199000},{"t":25.43,"v":218000},{"t":25.6,"v":165000},{"t":25.77,"v":199000},{"t":25.95,"v":181000},{"t":26.12,"v":165000},{"t":26.3,"v":199000},{"t":26.47,"v":150000},{"t":26.64,"v":181000},{"t":26.82,"v":137000},{"t":26.99,"v":199000},{"t":27.17,"v":150000},{"t":27.34,"v":181000},{"t":27.52,"v":137000},{"t":27.69,"v":199000},{"t":27.78,"v":263000},{"t":27.87,"v":137000},{"t":28.0,"v":125000}]
},
"vconcat":[
{"width":562,"height":83,
"title":{"text":"2026 /\u00a0\u00a07 / 25\u00a0\u00a0\u00a005:00 --\u00a0\u00a07 / 26\u00a0\u00a0\u00a005:00 ( ACE )","fontSize":11,"fontWeight":"normal","font":"DejaVu Sans","anchor":"middle","frame":"group","offset":-3.5,"color":"black"},
"layer":[
{"data":{"name":"bt"},"mark":{"type":"line","color":"black","strokeWidth":1},
"encoding":{"x":{"field":"t","type":"quantitative","scale":{"domain":[5,29],"nice":false,"zero":false},"axis":{"orient":"bottom","values":[6,8,10,12,14,16,18,20,22,24,26,28],"labels":false,"title":null}},
"y":{"field":"v","type":"quantitative","scale":{"domain":[-6,6],"nice":false,"zero":false},"axis":{"orient":"left","values":[-6,-4,-2,0,2,4,6],"title":"Bt,Bz","titleAngle":0,"titleX":-32.5,"titleY":41.5,"titleAlign":"center","titleBaseline":"middle"}}}},
{"data":{"name":"bz"},"mark":{"type":"line","color":"#ff0000","strokeWidth":1},
"encoding":{"x":{"field":"t","type":"quantitative","axis":null},"y":{"field":"v","type":"quantitative","axis":null}}},
{"mark":{"type":"rule","color":"#808080","strokeWidth":2},
"encoding":{"x":{"datum":5,"type":"quantitative","axis":{"orient":"top","values":[6,8,10,12,14,16,18,20,22,24,26,28],"labels":false,"title":null}},"x2":{"datum":29},
"y":{"datum":0,"type":"quantitative","axis":{"orient":"right","values":[-6,-4,-2,0,2,4,6],"labels":false,"title":null}}}}
],
"resolve":{"axis":{"x":"independent","y":"independent"}}},
{"width":562,"height":83,
"layer":[
{"data":{"name":"phi"},"mark":{"type":"point","filled":true,"shape":"square","size":9,"opacity":1},
"encoding":{"x":{"field":"t","type":"quantitative","scale":{"domain":[5,29],"nice":false,"zero":false},"axis":{"orient":"bottom","values":[6,8,10,12,14,16,18,20,22,24,26,28],"labels":false,"title":null}},
"y":{"field":"p","type":"quantitative","scale":{"domain":[45,405],"nice":false,"zero":false},"axis":{"orient":"left","values":[45,135,225,315,405],"title":["T","Phi","A"],"titleAngle":0,"titleX":-38.5,"titleY":20,"titleAlign":"center","titleBaseline":"middle","titleLineHeight":22.5}},
"color":{"field":"p","type":"quantitative","scale":{"type":"threshold","domain":[70,200,256,380],"range":["#bebebe","#ff80ff","#bebebe","#87cefa","#bebebe"]},"legend":null}}},
{"mark":{"type":"rule","color":"#b47474","strokeWidth":2,"strokeDash":[9,4]},
"encoding":{"x":{"datum":5,"type":"quantitative","axis":{"orient":"top","values":[6,8,10,12,14,16,18,20,22,24,26,28],"labels":false,"title":null}},"x2":{"datum":29},
"y":{"datum":225,"type":"quantitative","axis":{"orient":"right","values":[45,135,225,315,405],"labels":false,"title":null}}}}
],
"resolve":{"axis":{"x":"independent","y":"independent"}}},
{"width":562,"height":83,
"layer":[
{"data":{"name":"n"},"mark":{"type":"line","color":"#ff00ff","strokeWidth":1,"clip":true},
"encoding":{"x":{"field":"t","type":"quantitative","scale":{"domain":[5,29],"nice":false,"zero":false},"axis":{"orient":"bottom","values":[6,8,10,12,14,16,18,20,22,24,26,28],"labels":false,"title":null}},
"y":{"field":"v","type":"quantitative","scale":{"type":"log","domain":[0.1,10],"nice":false},"axis":{"orient":"left","values":[0.1,0.2,0.3,0.4,0.5,0.6,0.7,0.8,0.9,1,2,3,4,5,6,7,8,9,10],"labelExpr":"datum.value == 0.1 ? '0.1' : datum.value == 1 ? '1' : datum.value == 10 ? '10' : ''","labelAlign":"center","labelPadding":19.5,"title":"N","titleAngle":0,"titleX":-41.8,"titleY":41.5,"titleAlign":"center","titleBaseline":"middle"}}}},
{"mark":{"type":"rule","color":"#800000","strokeWidth":1.3,"strokeDash":[8,5]},
"encoding":{"x":{"datum":5,"type":"quantitative","axis":{"orient":"top","values":[6,8,10,12,14,16,18,20,22,24,26,28],"labels":false,"title":null}},"x2":{"datum":29},
"y":{"datum":1,"type":"quantitative","axis":{"orient":"right","values":[0.1,1,10],"labels":false,"title":null}}}}
],
"resolve":{"axis":{"x":"independent","y":"independent"}}},
{"width":562,"height":83,
"layer":[
{"data":{"name":"v"},"mark":{"type":"line","color":"#0000ff","strokeWidth":1},
"encoding":{"x":{"field":"t","type":"quantitative","scale":{"domain":[5,29],"nice":false,"zero":false},"axis":{"orient":"bottom","values":[6,8,10,12,14,16,18,20,22,24,26,28],"labels":false,"title":null}},
"y":{"field":"v","type":"quantitative","scale":{"domain":[400,600],"nice":false,"zero":false},"axis":{"orient":"left","values":[400,500,600],"title":"V","titleAngle":0,"titleX":-41.8,"titleY":41.5,"titleAlign":"center","titleBaseline":"middle"}}}},
{"mark":{"type":"rule","strokeOpacity":0},
"encoding":{"x":{"datum":5,"type":"quantitative","axis":{"orient":"top","values":[6,8,10,12,14,16,18,20,22,24,26,28],"labels":false,"title":null}},"x2":{"datum":29},
"y":{"datum":500,"type":"quantitative","axis":{"orient":"right","values":[400,500,600],"labels":false,"title":null}}}}
],
"resolve":{"axis":{"x":"independent","y":"independent"}}},
{"width":562,"height":83,
"layer":[
{"data":{"name":"temp"},"mark":{"type":"line","color":"#00ff00","strokeWidth":1},
"encoding":{"x":{"field":"t","type":"quantitative","scale":{"domain":[5,29],"nice":false,"zero":false},"axis":{"orient":"bottom","values":[6,8,10,12,14,16,18,20,22,24,26,28],"labels":true,"labelExpr":"'' + (datum.value % 24)","title":"UT","titlePadding":5}},
"y":{"field":"v","type":"quantitative","scale":{"type":"log","domain":[10000,1000000],"nice":false},"axis":{"orient":"left","values":[10000,20000,30000,40000,50000,60000,70000,80000,90000,100000,200000,300000,400000,500000,600000,700000,800000,900000,1000000],"labelExpr":"datum.value == 10000 ? '1e+4' : datum.value == 100000 ? '1e+5' : datum.value == 1000000 ? '1e+6' : ''","title":"T","titleAngle":0,"titleX":-42,"titleY":41.5,"titleAlign":"center","titleBaseline":"middle"}}}},
{"mark":{"type":"rule","color":"#b47474","strokeWidth":2,"strokeDash":[9,4]},
"encoding":{"x":{"datum":5,"type":"quantitative","axis":{"orient":"top","values":[6,8,10,12,14,16,18,20,22,24,26,28],"labels":false,"title":null}},"x2":{"datum":29},
"y":{"datum":100000,"type":"quantitative","axis":{"orient":"right","values":[10000,100000,1000000],"labels":false,"title":null}}}}
],
"resolve":{"axis":{"x":"independent","y":"independent"}}}
]
}
